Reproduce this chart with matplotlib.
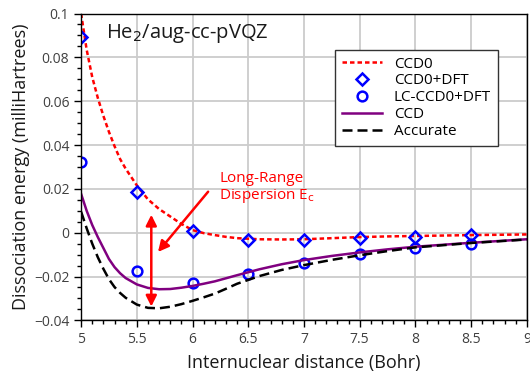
import matplotlib.pyplot as plt
from matplotlib.ticker import MultipleLocator, FuncFormatter

plt.rcParams['font.family'] = ['Open Sans', 'DejaVu Sans']

# Curves (internuclear distance in Bohr, energy in milliHartrees)
r_curve = [5.00, 5.05, 5.10, 5.15, 5.20, 5.25, 5.30, 5.35, 5.40, 5.50, 5.60,
           5.70, 5.80, 5.90, 6.00, 6.10, 6.20, 6.30, 6.40, 6.60, 6.80, 7.00,
           7.25, 7.50, 7.75, 8.00, 8.50, 9.00]
ccd0 = [0.1000, 0.0835, 0.0710, 0.0615, 0.0533, 0.0460, 0.0395, 0.0336, 0.0292,
        0.0216, 0.0152, 0.0108, 0.0074, 0.0040, 0.0012, -0.0002, -0.0011,
        -0.0019, -0.0025, -0.0030, -0.0031, -0.0030, -0.0025, -0.0020,
        -0.0017, -0.0015, -0.0011, -0.0008]
ccd = [0.0177, 0.0100, 0.0035, -0.0020, -0.0070, -0.0120, -0.0157, -0.0185,
       -0.0207, -0.0236, -0.0252, -0.0258, -0.0257, -0.0251, -0.0243, -0.0233,
       -0.0222, -0.0208, -0.0194, -0.0167, -0.0144, -0.0125, -0.0106, -0.0090,
       -0.0076, -0.0064, -0.0046, -0.0030]
accurate = [0.0096, 0.0020, -0.0050, -0.0112, -0.0165, -0.0212, -0.0248,
            -0.0275, -0.0297, -0.0328, -0.0343, -0.0345, -0.0338, -0.0326,
            -0.0311, -0.0295, -0.0278, -0.0256, -0.0233, -0.0198, -0.0170,
            -0.0148, -0.0124, -0.0103, -0.0084, -0.0067, -0.0047, -0.0031]

# Sampled points
r_pts = [5.0, 5.5, 6.0, 6.5, 7.0, 7.5, 8.0, 8.5]
ccd0_dft = [0.0895, 0.0185, 0.0008, -0.0033, -0.0033, -0.0023, -0.0018, -0.0011]
lc_ccd0_dft = [0.0324, -0.0173, -0.0231, -0.0189, -0.0140, -0.0099, -0.0071, -0.0053]

fig = plt.figure(figsize=(5.30, 3.76), dpi=100)
ax = fig.add_axes([0.153, 0.148, 0.841, 0.816])

ax.plot(r_curve, ccd0, color='#ff0000', lw=1.8, dashes=(1.8, 1.2), label='CCD0')
ax.plot(r_pts, ccd0_dft, ls='none', marker='D', ms=6.5, mfc='none', mec='#0000ff',
        mew=1.8, label='CCD0+DFT')
ax.plot(r_pts, lc_ccd0_dft, ls='none', marker='o', ms=7, mfc='none', mec='#0000ff',
        mew=1.8, label='LC-CCD0+DFT')
ax.plot(r_curve, ccd, color='#800080', lw=1.8, label='CCD')
ax.plot(r_curve, accurate, color='black', lw=1.8, dashes=(4, 2), label='Accurate')

ax.set_xlim(5, 9)
ax.set_ylim(-0.04, 0.1)
ax.xaxis.set_major_locator(MultipleLocator(0.5))
ax.xaxis.set_minor_locator(MultipleLocator(0.1))
ax.yaxis.set_major_locator(MultipleLocator(0.02))
ax.yaxis.set_minor_locator(MultipleLocator(0.005))
ax.xaxis.set_major_formatter(FuncFormatter(lambda v, p: f'{v:g}'))
ax.yaxis.set_major_formatter(FuncFormatter(lambda v, p: f'{v:g}'.replace('-', '\u2212')
                                           if abs(v) > 1e-9 else '0'))
ax.tick_params(which='major', direction='out', length=5, width=1, labelsize=10,
               labelcolor='#404040', top=False, right=False)
ax.tick_params(which='minor', direction='out', length=3, width=1,
               top=False, right=False)
ax.grid(True, which='major', color='#cccccc', lw=1.3)
ax.set_axisbelow(True)
for s in ax.spines.values():
    s.set_linewidth(1)

ax.set_xlabel('Internuclear distance (Bohr)', fontsize=13, color='#1a1a1a', labelpad=5)
ax.set_ylabel('Dissociation energy (milliHartrees)', fontsize=13, color='#1a1a1a', labelpad=3)

ax.text(0.055, 0.935, r'He$_2$/aug-cc-pVQZ', transform=ax.transAxes, fontsize=14.5,
        va='center', ha='left', color='#1a1a1a')

# Long-range dispersion annotation
ax.annotate('', xy=(5.63, -0.0337), xytext=(5.63, 0.0082),
            arrowprops=dict(arrowstyle='<|-|>', color='#ff0000', lw=1.8,
                            mutation_scale=16, shrinkA=0, shrinkB=0))
ax.annotate('', xy=(5.69, -0.0088), xytext=(6.14, 0.0187),
            arrowprops=dict(arrowstyle='-|>', color='#ff0000', lw=1.8,
                            mutation_scale=16, shrinkA=0, shrinkB=0))
ax.text(6.24, 0.0205, 'Long-Range\nDispersion E$_\\mathrm{c}$', color='#ff0000',
        fontsize=11, ha='left', va='center', linespacing=1.1)

leg = ax.legend(loc='upper right', bbox_to_anchor=(0.935, 0.882), fontsize=11,
                frameon=True, fancybox=False, edgecolor='#333333', framealpha=1,
                handlelength=2.6, handletextpad=0.8, borderpad=0.45,
                labelspacing=0.12, borderaxespad=0)
leg.get_frame().set_linewidth(1)

fig.savefig('out.png', dpi=100)
